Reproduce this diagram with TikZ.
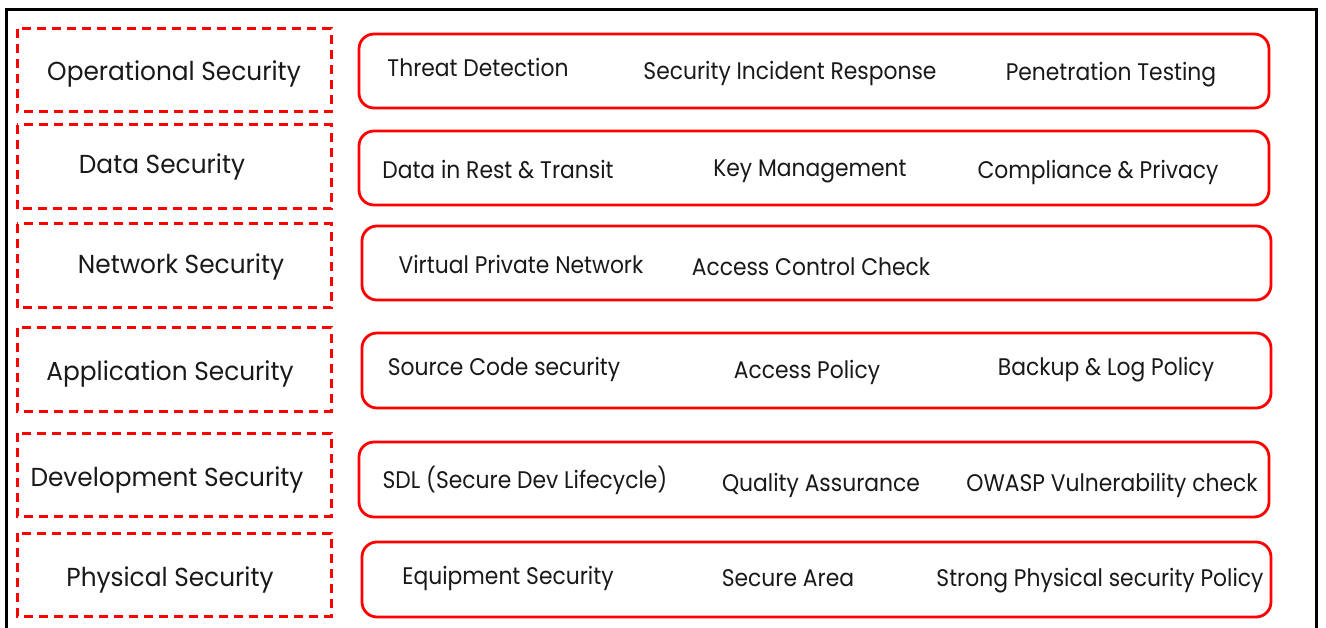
\documentclass[tikz,border=0pt]{standalone}
\usepackage{fontspec}
\setmainfont{Poppins}
\newfontfamily\layerfont[FakeStretch=0.955]{Poppins}
\newfontfamily\itemfont[FakeStretch=0.91]{Poppins}
\definecolor{boxred}{RGB}{255,0,0}
\definecolor{ink}{RGB}{25,25,25}
\tikzset{
  layer/.style={draw=boxred, line width=3pt, dash pattern=on 9pt off 6pt},
  band/.style={draw=boxred, line width=2.8pt, rounded corners=15pt},
  lname/.style={anchor=base, inner sep=0pt, text=ink, font=\layerfont\fontsize{26}{30}\selectfont},
  lbl/.style={anchor=base, inner sep=0pt, text=ink, font=\itemfont\fontsize{24}{28}\selectfont},
}
\begin{document}
\begin{tikzpicture}[x=1pt, y=-1pt]
\useasboundingbox (0,0) rectangle (1326,628);
% outer frame, open at the bottom edge
\draw[line width=3pt, black] (6,640) -- (6,10) -- (1316,10) -- (1316,640);

% layer boxes (left)
\draw[layer] (17,29) rectangle (331,112) node[pos=0.5] (L1) {};
\draw[layer] (17,125) rectangle (331,209) node[pos=0.5] (L2) {};
\draw[layer] (17,224) rectangle (331,308) node[pos=0.5] (L3) {};
\draw[layer] (17,328) rectangle (331,411) node[pos=0.5] (L4) {};
\draw[layer] (17,433) rectangle (331,516) node[pos=0.5] (L5) {};
\draw[layer] (17,533) rectangle (331,616) node[pos=0.5] (L6) {};

% control bands (right)
\draw[band] (359,34) rectangle (1269,108) node[pos=0.5] (R1) {};
\draw[band] (359,131) rectangle (1269,205) node[pos=0.5] (R2) {};
\draw[band] (362,226) rectangle (1271,300) node[pos=0.5] (R3) {};
\draw[band] (362,333) rectangle (1271,408) node[pos=0.5] (R4) {};
\draw[band] (359,442) rectangle (1269,517) node[pos=0.5] (R5) {};
\draw[band] (362,542) rectangle (1271,617) node[pos=0.5] (R6) {};

% layer names
\node[lname] (t1) at (174,81) {Operational Security};
\node[lname] (t2) at (162,174) {Data Security};
\node[lname] (t3) at (181,274) {Network Security};
\node[lname] (t4) at (170,381) {Application Security};
\node[lname] (t5) at (167,486) {Development Security};
\node[lname] (t6) at (170,586) {Physical Security};

% controls per layer
\node[lbl] (a1) at (478,77) {Threat Detection};
\node[lbl] (a2) at (790,80) {Security Incident Response};
\node[lbl] (a3) at (1111,81) {Penetration Testing};

\node[lbl] (b1) at (498,179) {Data in Rest \& Transit};
\node[lbl] (b2) at (810,177) {Key Management};
\node[lbl] (b3) at (1098,179) {Compliance \& Privacy};

\node[lbl] (c1) at (521,274) {Virtual Private Network};
\node[lbl] (c2) at (811,276) {Access Control Check};

\node[lbl] (d1) at (504,376) {Source Code security};
\node[lbl] (d2) at (807,379) {Access Policy};
\node[lbl] (d3) at (1106,376) {Backup \& Log Policy};

\node[lbl] (e1) at (525,488) {SDL (Secure Dev Lifecycle)};
\node[lbl] (e2) at (821,491) {Quality Assurance};
\node[lbl] (e3) at (1112,491) {OWASP Vulnerability check};

\node[lbl] (f1) at (508,584) {Equipment Security};
\node[lbl] (f2) at (788,586) {Secure Area};
\node[lbl] (f3) at (1100,586) {Strong Physical security Policy};
\end{tikzpicture}
\end{document}
